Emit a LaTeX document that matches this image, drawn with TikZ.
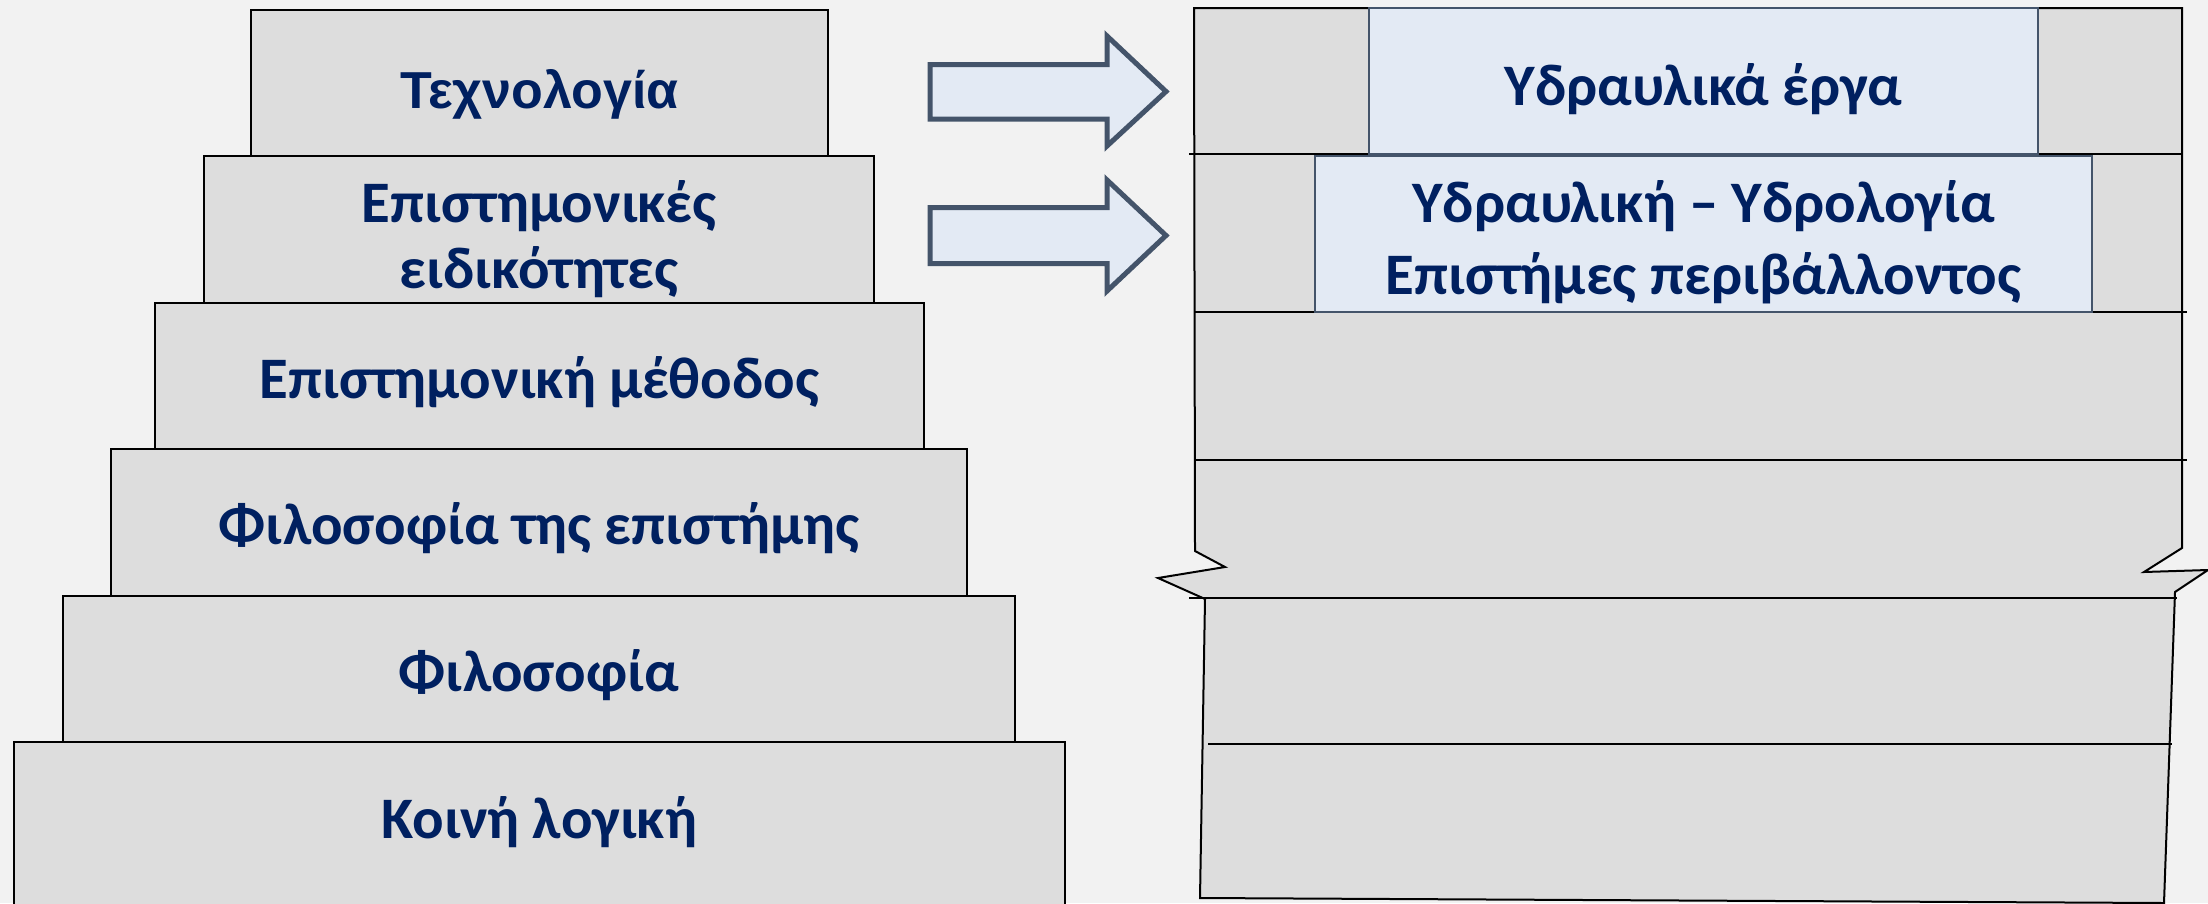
\documentclass[tikz,border=0pt]{standalone}
\usepackage{fontspec}
\setmainfont{Carlito}
\newfontfamily\arialfont{Liberation Sans}
\definecolor{bgcol}{HTML}{F2F2F2}
\definecolor{stepgray}{HTML}{DDDDDD}
\definecolor{paleblue}{HTML}{E3EAF4}
\definecolor{slate}{HTML}{44546A}
\definecolor{navy}{HTML}{002060}
\begin{document}
\begin{tikzpicture}[x=1pt,y=-1pt,
  level/.style={draw=black, line width=2pt, fill=stepgray, rectangle, inner sep=0pt},
  hilite/.style={draw=slate, line width=2pt, fill=paleblue, rectangle, inner sep=0pt},
  label/.style={anchor=base, inner sep=0pt, text=navy, font=\fontsize{58.8}{70}\selectfont\bfseries},
  blockarrow/.style={draw=slate, line width=5pt, fill=paleblue, line join=miter},
  rule/.style={draw=black, line width=2pt}]
\useasboundingbox[fill=bgcol] (0,0) rectangle (2208,903);

% left staircase of levels
\node[level, minimum width=1051pt, minimum height=168pt] (common)  at (539.5,826) {};
\node[level, minimum width=952pt,  minimum height=146pt] (philo)   at (539,669) {};
\node[level, minimum width=856pt,  minimum height=147pt] (philsci) at (539,522.5) {};
\node[level, minimum width=769pt,  minimum height=146pt] (method)  at (539.5,376) {};
\node[level, minimum width=670pt,  minimum height=147pt] (fields)  at (539,229.5) {};
\node[level, minimum width=577pt,  minimum height=146pt] (tech)    at (539.5,83) {};

\node[label, font=\arialfont\fontsize{52}{62}\selectfont\bfseries] (t1) at (539.5,108) {Τεχνολογία};
\node[label] (t2a) at (539,222) {Επιστημονικές};
\node[label] (t2b) at (539,288) {ειδικότητες};
\node[label] (t3) at (539.5,398) {Επιστημονική μέθοδος};
\node[label] (t4) at (539,544) {Φιλοσοφία της επιστήμης};
\node[label] (t5) at (539,691) {Φιλοσοφία};
\node[label] (t6) at (539.5,838) {Κοινή λογική};

% right column with torn edges
\path[draw=black, line width=2pt, fill=stepgray, line join=miter]
  (1194,8) -- (2182,8) -- (2182,548) -- (2144,572) -- (2208,570) -- (2175,592)
  -- (2164,903) -- (1200,898) -- (1205,599) -- (1158,578) -- (1225,567)
  -- (1195,551) -- cycle;

\coordinate (r1l) at (1189,154); \coordinate (r1r) at (2182,154);
\coordinate (r2l) at (1194,312); \coordinate (r2r) at (2187,312);
\coordinate (r3l) at (1194,460); \coordinate (r3r) at (2187,460);
\coordinate (r4l) at (1189,598); \coordinate (r4r) at (2177,598);
\coordinate (r5l) at (1208,744); \coordinate (r5r) at (2172,744);
\draw[rule] (r1l) -- (r1r);
\draw[rule] (r2l) -- (r2r);
\draw[rule] (r3l) -- (r3r);
\draw[rule] (r4l) -- (r4r);
\draw[rule] (r5l) -- (r5r);

\node[hilite, minimum width=669pt, minimum height=146pt] (works) at (1703.5,81) {};
\node[hilite, minimum width=777pt, minimum height=156pt] (hydro) at (1703.5,234) {};
\node[label] (w1) at (1703.5,105) {Υδραυλικά έργα};
\node[label] (h1) at (1703.5,222) {Υδραυλική – Υδρολογία};
\node[label] (h2) at (1703.5,294) {Επιστήμες περιβάλλοντος};

% block arrows
\path[blockarrow] (930,64.5) -- (1107,64.5) -- (1107,36) -- (1166,91.5)
  -- (1107,146) -- (1107,119) -- (930,119) -- cycle;
\path[blockarrow] (930,207.5) -- (1107,207.5) -- (1107,180) -- (1166,235.5)
  -- (1107,291) -- (1107,263.5) -- (930,263.5) -- cycle;
\end{tikzpicture}
\end{document}
